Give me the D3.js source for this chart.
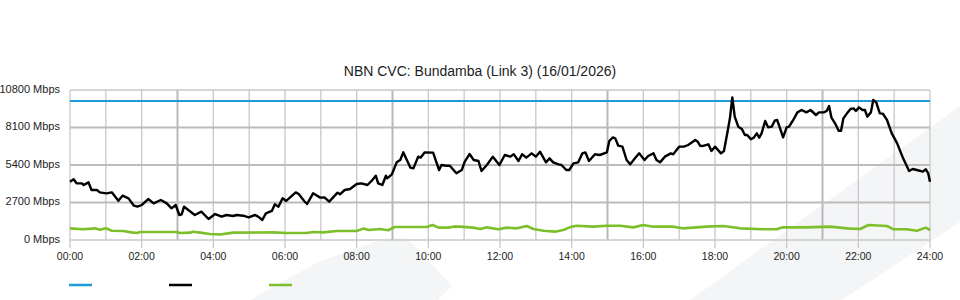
<!DOCTYPE html>
<html>
<head>
<meta charset="utf-8">
<script src="https://cdn.jsdelivr.net/npm/d3@7"></script>
<style>
  body { margin: 0; background: #fff; }
  svg { display: block; font-family: 'Liberation Sans', Arial, sans-serif; }
</style>
</head>
<body>
<svg></svg>
<script>
// NBN CVC utilisation for one day, minutes since midnight -> Mbps
var width = 960;
var height = 300;
var plotLeft = 70;
var plotRight = 930;
var plotTop = 90;
var plotBottom = 240;

var chartTitle = 'NBN CVC: Bundamba (Link 3) (16/01/2026)';
var yTicks = [0, 2700, 5400, 8100, 10800];
var xTickHours = [0, 2, 4, 6, 8, 10, 12, 14, 16, 18, 20, 22, 24];

var capacityMinutes = [0, 1440];
var capacityMbps = [10000, 10000];

var downMinutes = [0, 6, 11, 20, 23, 31, 36, 45, 50, 61, 70, 81, 88, 98, 107, 113, 120, 131, 140, 152,
  162, 170, 177, 183, 187, 191, 198, 209, 220, 232, 243, 254, 262, 273, 279, 290, 299, 310, 315, 322,
  328, 338, 343, 349, 356, 362, 370, 378, 383, 392, 397, 407, 419, 426, 434, 448, 452, 460, 469, 480,
  488, 498, 505, 512, 516, 523, 529, 531, 539, 547, 553, 558, 564, 570, 575, 583, 587, 594, 608, 618,
  622, 630, 636, 647, 656, 661, 669, 676, 684, 689, 698, 708, 719, 728, 737, 743, 751, 757, 764, 773,
  780, 787, 797, 803, 809, 818, 823, 831, 836, 843, 851, 858, 863, 869, 879, 887, 899, 903, 909, 913,
  918, 925, 932, 938, 946, 953, 962, 968, 977, 982, 988, 996, 1006, 1010, 1020, 1028, 1035, 1047, 1051, 1055,
  1060, 1069, 1074, 1080, 1090, 1095, 1101, 1105, 1109, 1113, 1119, 1125, 1130, 1134, 1140, 1145, 1150, 1154, 1158, 1164,
  1169, 1175, 1180, 1184, 1189, 1194, 1200, 1204, 1211, 1218, 1225, 1233, 1240, 1249, 1254, 1262, 1267, 1271, 1275, 1281,
  1287, 1291, 1295, 1301, 1307, 1312, 1316, 1321, 1327, 1331, 1335, 1341, 1345, 1350, 1356, 1361, 1368, 1376, 1385, 1395,
  1405, 1411, 1418, 1428, 1433, 1437, 1440];
var downMbps = [4200, 4370, 4080, 4080, 3960, 4150, 3600, 3600, 3430, 3360, 3430, 2830, 3190, 3000, 2470, 2400, 2520, 2950, 2640, 2880,
  2640, 2280, 2520, 1800, 1850, 2400, 2160, 1800, 2040, 1510, 1870, 1680, 1800, 1730, 1800, 1750, 1630, 1800, 1680, 1440,
  1920, 2090, 2570, 2400, 3000, 2810, 3120, 3430, 3310, 2810, 2590, 3360, 3050, 3070, 2760, 3410, 3290, 3600, 3670, 4030,
  4080, 3960, 4250, 4630, 4080, 3960, 4630, 4440, 4730, 5590, 5760, 6310, 5760, 5210, 5160, 6000, 5930, 6310, 6290, 5040,
  5400, 5350, 5350, 4800, 5040, 5640, 6190, 5760, 5690, 4970, 5400, 6000, 5400, 6120, 6000, 6170, 5690, 6170, 5930, 6240,
  6000, 6360, 5590, 5880, 5590, 5450, 5400, 5040, 5040, 5520, 5590, 6240, 6310, 5690, 6170, 6120, 6310, 7130, 7390, 7320,
  6790, 6720, 5760, 5450, 5880, 6240, 5760, 6050, 6240, 5760, 5590, 6000, 6240, 6170, 6720, 6720, 6840, 7200, 7080, 6790,
  6770, 6890, 6410, 6720, 6240, 6410, 7800, 8760, 10270, 8880, 8160, 7990, 7560, 7560, 7250, 7370, 7680, 7370, 7680, 8570,
  8110, 8160, 8590, 8640, 8040, 7390, 8110, 8160, 8640, 9190, 9360, 9190, 9360, 9000, 9190, 9190, 9290, 9650, 8810, 8400,
  7870, 7870, 8760, 9120, 9430, 9480, 9290, 9550, 9360, 9360, 8880, 9190, 10080, 9910, 9120, 9100, 8640, 7680, 6960, 5880,
  4970, 5110, 5040, 4920, 5090, 4800, 4200];

var upMinutes = [0, 22, 42, 50, 60, 70, 89, 103, 112, 117, 151, 179, 184, 201, 206, 218, 234, 251, 273, 340,
  363, 396, 407, 424, 447, 480, 491, 500, 519, 533, 544, 597, 607, 617, 633, 642, 653, 675, 687, 698,
  717, 731, 748, 765, 776, 793, 812, 826, 840, 848, 876, 899, 921, 943, 960, 977, 1010, 1026, 1066, 1094,
  1122, 1161, 1183, 1194, 1233, 1273, 1301, 1323, 1337, 1368, 1379, 1401, 1418, 1433, 1440];
var upMbps = [840, 770, 840, 740, 840, 670, 650, 550, 500, 580, 580, 580, 500, 530, 600, 530, 430, 400, 530, 550,
  500, 500, 580, 550, 650, 650, 820, 720, 790, 700, 940, 940, 1080, 890, 890, 960, 960, 890, 790, 910,
  770, 890, 840, 1010, 790, 670, 600, 720, 960, 1030, 960, 1030, 1030, 910, 1080, 960, 960, 840, 960, 1010,
  840, 770, 770, 910, 910, 960, 840, 790, 1080, 1010, 770, 770, 670, 890, 720];

var legendColors = ['#1e9ad6', '#000000', '#7dbf2b'];

var svg = d3.select('svg').attr('width', width).attr('height', height);

// faint background shapes
svg.append('path')
  .attr('d', 'M250,300 L318,262 L372,243 Q400,233 412,243 L452,286 L438,300 Z')
  .attr('fill', '#f4f5f7');
svg.append('path')
  .attr('d', 'M690,300 L960,106 L960,222 L842,300 Z')
  .attr('fill', '#f4f5f7');

var xScale = d3.scaleLinear().domain([0, 1440]).range([plotLeft, plotRight]);
var yScale = d3.scaleLinear().domain([0, 10800]).range([plotBottom, plotTop]);

// vertical grid every hour, ticks below the labelled ones
var hours = d3.range(0, 25);
svg.append('g')
  .selectAll('line')
  .data(hours)
  .enter()
  .append('line')
  .attr('x1', (d) => xScale(d * 60))
  .attr('x2', (d) => xScale(d * 60))
  .attr('y1', plotTop)
  .attr('y2', (d) => (d % 2 === 0 ? plotBottom + 8 : plotBottom))
  .attr('stroke', (d) => (d % 6 === 3 ? '#b8b8b8' : '#c8c8c8'))
  .attr('stroke-width', (d) => (d % 6 === 3 ? 2 : 1.3));

svg.append('g')
  .selectAll('line')
  .data(yTicks)
  .enter()
  .append('line')
  .attr('x1', plotLeft)
  .attr('x2', plotRight)
  .attr('y1', (d) => yScale(d))
  .attr('y2', (d) => yScale(d))
  .attr('stroke', (d) => (d === 0 || d === 10800 ? '#c8c8c8' : '#bcbcbc'))
  .attr('stroke-width', (d) => (d === 0 || d === 10800 ? 1.3 : 2));

svg.append('g')
  .selectAll('text')
  .data(yTicks)
  .enter()
  .append('text')
  .attr('x', plotLeft - 10)
  .attr('y', (d) => yScale(d) - 1)
  .attr('dy', '0.35em')
  .attr('text-anchor', 'end')
  .attr('font-size', '11px')
  .attr('fill', '#222')
  .text((d) => d + ' Mbps');

svg.append('g')
  .selectAll('text')
  .data(xTickHours)
  .enter()
  .append('text')
  .attr('x', (d) => xScale(d * 60))
  .attr('y', plotBottom + 20)
  .attr('text-anchor', 'middle')
  .attr('font-size', '10.5px')
  .attr('fill', '#222')
  .text((d) => (d < 10 ? '0' + d : d) + ':00');

var line = d3.line()
  .x((d) => xScale(d[0]))
  .y((d) => yScale(d[1]));

svg.append('path')
  .datum(d3.zip(upMinutes, upMbps))
  .attr('d', line)
  .attr('fill', 'none')
  .attr('stroke', legendColors[2])
  .attr('stroke-width', 2.6)
  .attr('stroke-linejoin', 'round');

svg.append('path')
  .datum(d3.zip(capacityMinutes, capacityMbps))
  .attr('d', line)
  .attr('fill', 'none')
  .attr('stroke', legendColors[0])
  .attr('stroke-width', 2);

svg.append('path')
  .datum(d3.zip(downMinutes, downMbps))
  .attr('d', line)
  .attr('fill', 'none')
  .attr('stroke', legendColors[1])
  .attr('stroke-width', 2.4)
  .attr('stroke-linejoin', 'round');

svg.append('text')
  .attr('x', width / 2)
  .attr('y', 76)
  .attr('text-anchor', 'middle')
  .attr('font-size', '14px')
  .attr('fill', '#222')
  .text(chartTitle);

// legend swatches, no labels
svg.append('g')
  .selectAll('line')
  .data(legendColors)
  .enter()
  .append('line')
  .attr('x1', (d, i) => 69 + i * 100)
  .attr('x2', (d, i) => 92 + i * 100)
  .attr('y1', 285)
  .attr('y2', 285)
  .attr('stroke', (d) => d)
  .attr('stroke-width', 2.5);
</script>
</body>
</html>
